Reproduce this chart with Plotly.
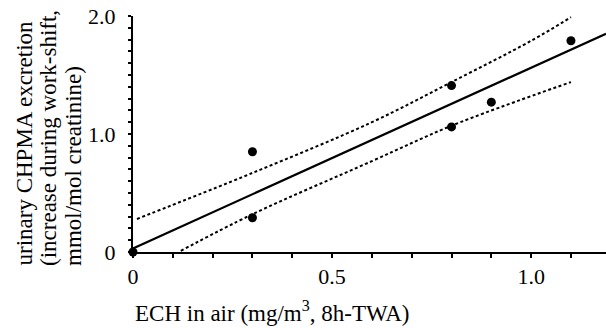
import plotly.graph_objects as go

# Measured data points (ECH in air vs CHPMA excretion increase)
ech_air = [0.0, 0.3, 0.3, 0.8, 0.8, 0.9, 1.1]
chpma = [0.0, 0.85, 0.29, 1.41, 1.06, 1.27, 1.79]

# Regression line
fit_x = [0.0, 1.188]
fit_y = [0.03, 1.85]

# Confidence band (dotted)
upper_x = [0.01, 0.3, 0.6, 0.8, 1.0, 1.1]
upper_y = [0.28, 0.67, 1.10, 1.44, 1.79, 1.99]
lower_x = [0.12, 0.3, 0.6, 0.8, 1.1]
lower_y = [0.01, 0.32, 0.77, 1.07, 1.44]

x_tickvals = [0, 0.5, 1.0]
x_ticktext = ["0", "0.5", "1.0"]
y_tickvals = [0, 1.0, 2.0]
y_ticktext = ["0", "1.0", "2.0"]

y_title_lines = ["urinary CHPMA excretion", "(increase during work-shift,", "mmol/mol creatinine)"]
x_title = "ECH in air (mg/m<sup>3</sup>, 8h-TWA)"

FONT = "Liberation Serif"
dotted = dict(color="black", width=2, dash="3px,2.5px")

fig = go.Figure()
fig.add_trace(go.Scatter(x=upper_x, y=upper_y, mode="lines", line=dotted,
                         line_shape="spline", cliponaxis=False, showlegend=False))
fig.add_trace(go.Scatter(x=lower_x, y=lower_y, mode="lines", line=dotted,
                         line_shape="spline", cliponaxis=False, showlegend=False))
fig.add_trace(go.Scatter(x=fit_x, y=fit_y, mode="lines",
                         line=dict(color="black", width=2.2), cliponaxis=False, showlegend=False))
fig.add_trace(go.Scatter(x=ech_air, y=chpma, mode="markers",
                         marker=dict(color="black", size=9), cliponaxis=False, showlegend=False))

fig.update_layout(
    width=606, height=328,
    margin=dict(l=133, r=0, t=16, b=76),
    paper_bgcolor="white", plot_bgcolor="white",
    font=dict(family=FONT, size=22, color="black"),
    xaxis=dict(range=[0, 1.188], tickvals=x_tickvals, ticktext=x_ticktext,
               showgrid=False, zeroline=False, showline=True, linecolor="black", linewidth=2,
               ticks="outside", ticklen=4, tickwidth=1.5, tickcolor="black",
               minor=dict(dtick=0.1, tick0=0, ticks="outside", ticklen=4, tickwidth=1.5, tickcolor="black", showgrid=False),
               tickfont=dict(family=FONT, size=22)),
    yaxis=dict(range=[0, 2.0], tickvals=y_tickvals, ticktext=y_ticktext,
               showgrid=False, zeroline=False, showline=True, linecolor="black", linewidth=2,
               ticks="outside", ticklen=3, tickwidth=1.5, tickcolor="black",
               minor=dict(dtick=0.1, tick0=0, ticks="outside", ticklen=3, tickwidth=1.5, tickcolor="black", showgrid=False),
               tickfont=dict(family=FONT, size=22), ticklabelstandoff=8),
)

# Y title: three left-aligned rotated lines with tight spacing
line_x_px = [24, 48, 73]
plot_w = 606 - 133
plot_h = 328 - 16 - 76
bottom_px = 268
for txt, xp in zip(y_title_lines, line_x_px):
    fig.add_annotation(
        text=txt, xref="paper", yref="paper",
        x=(xp - 133) / plot_w, y=(252 - bottom_px) / plot_h,
        xanchor="center", yanchor="bottom", textangle=-90, showarrow=False,
        font=dict(family=FONT, size=23, color="black"),
    )

fig.add_annotation(
    text=x_title, xref="paper", yref="paper",
    x=(272 - 133) / plot_w, y=(252 - 311) / plot_h, xanchor="center", yanchor="middle",
    showarrow=False, font=dict(family=FONT, size=23, color="black"),
)

fig.write_html("out.html", config={"displayModeBar": False},
               post_script="document.body.style.margin='0';document.body.style.padding='0';")
